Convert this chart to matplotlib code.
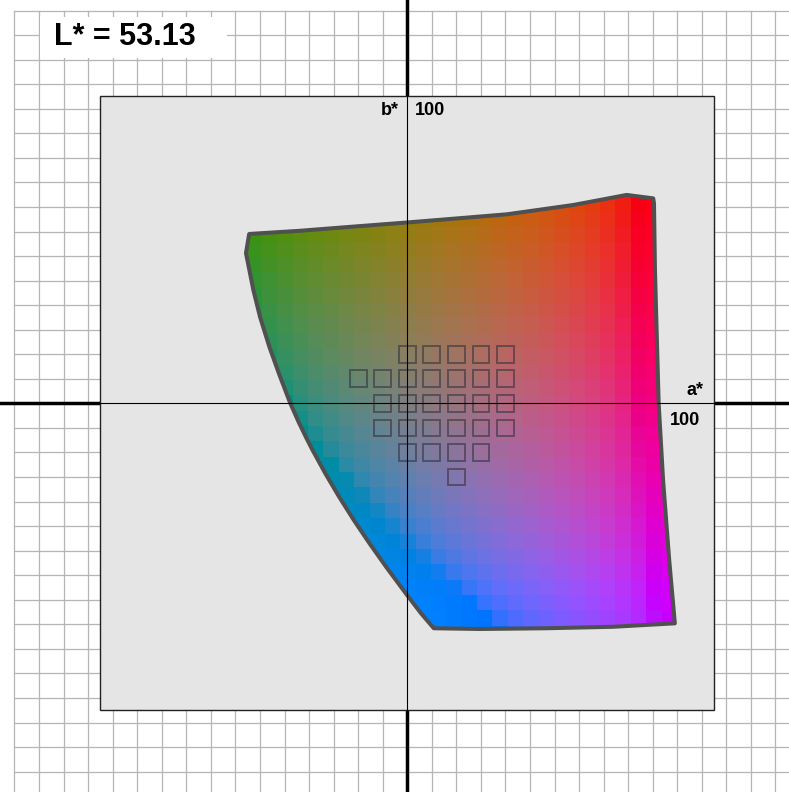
import numpy as np
import matplotlib
matplotlib.use("Agg")
import matplotlib.pyplot as plt
from matplotlib.patches import Polygon, Rectangle

plt.rcParams['font.family'] = ['Liberation Sans', 'DejaVu Sans']

L_STAR = 53.13

# gamut outline of the slice, (a*, b*) going round from the top-left corner
GAMUT_A = [-64.4, -65.7, -62.7, -60.0, -56.2, -52.3, -47.8, -44.3, -41.0,
           -38.6, -33.4, -27.8, -21.8, -15.4, -8.6, -0.6, 5.6, 10.8,
           29.6, 56.8, 83.9, 109.0,
           106.7, 104.2, 102.4, 100.9, 100.5, 100.2,
           89.4, 67.6, 40.5, 17.4, 0.2, -23.3, -43.7]
GAMUT_B = [69.0, 61.2, 46.2, 35.3, 23.1, 12.2, 0.4, -7.5, -14.3,
           -19.0, -28.5, -38.0, -47.5, -57.0, -66.6, -77.4, -85.5, -91.6,
           -91.9, -91.6, -91.0, -89.6,
           -63.8, -31.2, 0.1, 54.3, 81.5, 83.5,
           84.9, 80.8, 77.0, 75.1, 73.7, 71.9, 70.3]

# sample swatches, one row per b*: (b*, list of a*)
SWATCH_ROWS = [
    (20,  [0, 10, 20, 30, 40]),
    (10,  [-20, -10, 0, 10, 20, 30, 40]),
    (0,   [-10, 0, 10, 20, 30, 40]),
    (-10, [-10, 0, 10, 20, 30, 40]),
    (-20, [0, 10, 20, 30]),
    (-30, [20]),
]

BOX = 125       # half width of the plotting panel
TILE = 6.25     # colour tile size
XLIM = (-165.9, 155.5)
YLIM = (-158.3, 164.3)

# XYZ (D65) -> linear Display P3
XYZ_TO_P3 = np.array([[2.4935, -0.9314, -0.4027],
                      [-0.8295, 1.7627, 0.0236],
                      [0.0358, -0.0762, 0.9569]])


def lab_to_p3(L, a, b):
    fy = np.full_like(a, (L + 16) / 116, dtype=float)
    fx = fy + a / 500
    fz = fy - b / 200

    def finv(t):
        return np.where(t > 6 / 29, t ** 3, 3 * (6 / 29) ** 2 * (t - 4 / 29))

    xyz = np.stack([0.95047 * finv(fx), finv(fy), 1.08883 * finv(fz)], axis=-1)
    rgb = np.clip(xyz @ XYZ_TO_P3.T, 0, 1)
    return np.where(rgb <= 0.0031308, 12.92 * rgb,
                    1.055 * rgb ** (1 / 2.4) - 0.055)


fig = plt.figure(figsize=(7.89, 7.92), dpi=100)
ax = fig.add_axes([0, 0, 1, 1])
ax.set_xlim(*XLIM)
ax.set_ylim(*YLIM)
ax.axis('off')

# background graph paper
grid_c = '#b5b5b5'
for a in np.arange(-160, 160, 10):
    ax.plot([a, a], [YLIM[0], 160], color=grid_c, lw=0.9, zorder=1)
for b in np.arange(-150, 170, 10):
    ax.plot([-160, XLIM[1]], [b, b], color=grid_c, lw=0.9, zorder=1)

# heavy axes outside the panel
ax.plot([0, 0], YLIM, color='black', lw=2.5, zorder=2)
ax.plot(XLIM, [0, 0], color='black', lw=2.5, zorder=2)

# L* label on a white patch
ax.add_patch(Rectangle((-149.5, 140.5), 75.9, 17.0, facecolor='white',
                       edgecolor='none', zorder=3))
ax.text(-144.0, 145.8, f'L* = {L_STAR:.2f}', fontsize=22, fontweight='bold',
        ha='left', va='baseline', zorder=4)

# grey panel
ax.add_patch(Rectangle((-BOX, -BOX), 2 * BOX, 2 * BOX, facecolor='#e5e5e5',
                       edgecolor='#222222', lw=1.0, zorder=5))

# colour tiles clipped to the gamut
centers = np.arange(-BOX, BOX + TILE / 2, TILE)
aa, bb = np.meshgrid(centers, centers[::-1])
img = lab_to_p3(L_STAR, aa, bb)
half = TILE / 2
im = ax.imshow(img, extent=(-BOX - half, BOX + half, -BOX - half, BOX + half),
               interpolation='nearest', zorder=6, aspect='auto')
gamut = Polygon(np.column_stack([GAMUT_A, GAMUT_B]), closed=True,
                facecolor='none', edgecolor='#505050', lw=2.9,
                joinstyle='round', zorder=7)
ax.add_patch(gamut)
im.set_clip_path(gamut)

# swatch outlines
sw = 6.8
for b, row in SWATCH_ROWS:
    for a in row:
        ax.add_patch(Rectangle((a - sw / 2, b - sw / 2), sw, sw,
                               facecolor='none',
                               edgecolor=(0.2, 0.2, 0.25, 0.6),
                               lw=1.4, zorder=8))

# thin axes inside the panel
ax.plot([0, 0], [-BOX, BOX], color='black', lw=0.8, zorder=9)
ax.plot([-BOX, BOX], [0, 0], color='black', lw=0.8, zorder=9)

lab_kw = dict(fontsize=13, fontweight='bold', va='baseline', zorder=10)
ax.text(-3.4, 117.4, 'b*', ha='right', **lab_kw)
ax.text(3.1, 117.4, '100', ha='left', **lab_kw)
ax.text(120.8, 3.4, 'a*', ha='right', **lab_kw)
ax.text(119.2, -8.9, '100', ha='right', **lab_kw)

fig.savefig('out.png', dpi=100)
